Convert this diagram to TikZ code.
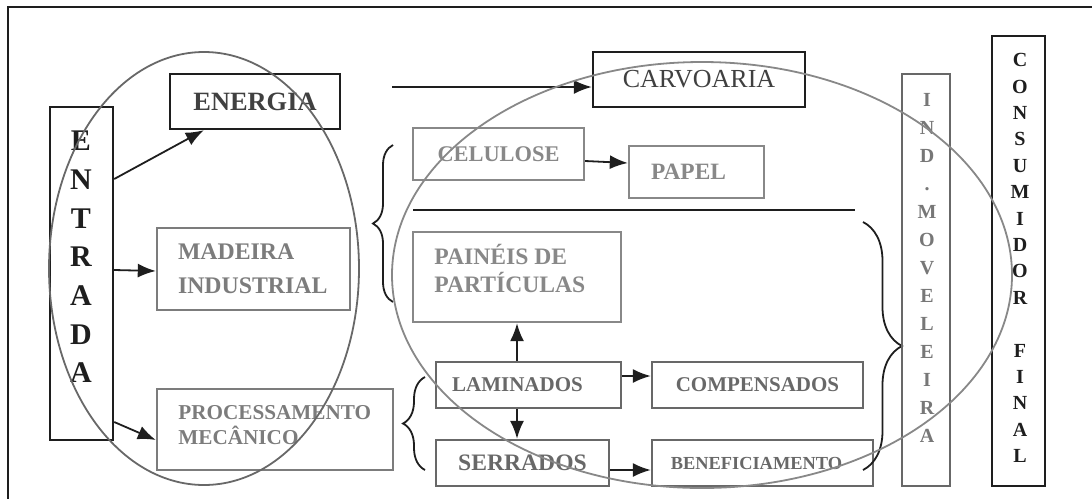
\documentclass[tikz,border=0pt]{standalone}
\usepackage{fontspec}
\setmainfont{Liberation Serif}
\usetikzlibrary{arrows.meta,decorations.pathreplacing}

\definecolor{ink}{HTML}{1E1E1E}
\definecolor{midgray}{HTML}{686868}
\definecolor{softgray}{HTML}{7C7C7C}
\definecolor{lightgray}{HTML}{888888}

\begin{document}
\begin{tikzpicture}[x=0.5pt, y=-0.5pt,
        box/.style={draw, line width=1.2pt, inner sep=0pt},
        flow/.style={-{Latex[length=9pt,width=7pt]}, line width=0.9pt, ink},
        curly/.style={decorate, decoration={brace, amplitude=#1}, line width=0.9pt, ink},
        zone/.style={line width=0.9pt}]
        \useasboundingbox (0,0) rectangle (1092,499);
        \draw[line width=1.2pt, ink] (1092,7) -- (8,7) -- (8,499);

        % entrada
        \node[box, ink, minimum width=31.5pt, minimum height=166.5pt] (entrada) at (81.5,273.5) {};
        \node[ink, align=center, font=\bfseries\fontsize{15}{19.35}\selectfont] (entradatxt) at (81,257) {E\\N\\T\\R\\A\\D\\A};

        \node[box, ink, minimum width=85pt, minimum height=27.5pt, font=\bfseries\fontsize{13.2}{15}\selectfont, text=ink!85] (energia) at (255,101.5) {ENERGIA};
        \node[box, softgray, minimum width=96.5pt, minimum height=41pt, text width=75.5pt, align=left, font=\bfseries\fontsize{11.9}{17}\selectfont] (madeira) at (253.5,269) {MADEIRA\\INDUSTRIAL};
        \node[box, softgray, minimum width=118pt, minimum height=40.5pt] (proc) at (275,429.5) {};
        \node[softgray, anchor=west, inner sep=0pt, align=left, font=\bfseries\fontsize{10.6}{12.5}\selectfont] (proctxt) at (178,425) {PROCESSAMENTO\\MEC\^ANICO};

        \draw[flow] ([yshift=47.25pt]entrada.east) -- ([xshift=17.5pt]energia.south west);
        \draw[flow] ([yshift=1.75pt]entrada.east) -- ([yshift=-1pt]madeira.west);
        \draw[flow] ([yshift=-74.25pt]entrada.east) -- ([yshift=-5.25pt]proc.west);

        % madeira para o resto
        \node[box, ink, minimum width=106pt, minimum height=27.5pt, text=ink!85, font=\fontsize{13}{15}\selectfont] (carvoaria) at (699,79.5) {CARVOARIA};
        \coordinate (carvin) at (392,87);
        \draw[flow] (carvin) -- ([yshift=-3.75pt]carvoaria.west);

        \node[box, lightgray, minimum width=85.5pt, minimum height=26pt, font=\bfseries\fontsize{11.2}{13}\selectfont] (celulose) at (498.5,154) {CELULOSE};
        \node[box, lightgray, minimum width=67.5pt, minimum height=26pt, font=\bfseries\fontsize{11.7}{13}\selectfont] (papel) at (696.5,172) {\hspace{-8pt}PAPEL};
        \draw[flow] ([yshift=-3.5pt]celulose.east) -- ([yshift=4.5pt]papel.west);
        \draw[line width=0.9pt, ink] (413,210) -- (855,210);

        \node[box, lightgray, minimum width=104pt, minimum height=45pt] (paineis) at (517,277) {};
        \node[lightgray, anchor=west, inner sep=0pt, align=left, font=\bfseries\fontsize{11.8}{14}\selectfont] (paineistxt) at (434,268) {PAIN\'EIS DE\\PART\'ICULAS};

        \node[box, midgray, minimum width=92.5pt, minimum height=23pt, font=\bfseries\fontsize{10.5}{12}\selectfont] (laminados) at (528.5,385) {\hspace{-11pt}LAMINADOS};
        \node[box, midgray, minimum width=86.5pt, minimum height=23pt, font=\bfseries\fontsize{11.8}{13}\selectfont] (serrados) at (522.5,463) {SERRADOS};
        \node[box, midgray, minimum width=105.5pt, minimum height=23pt, font=\bfseries\fontsize{10.5}{12}\selectfont] (compensados) at (757.5,385) {COMPENSADOS};
        \node[box, midgray, minimum width=110.5pt, minimum height=23pt, font=\bfseries\fontsize{9.2}{11}\selectfont] (benef) at (762.5,463) {\hspace{-6pt}BENEFICIAMENTO};

        \draw[flow] (paineis.south |- laminados.north) -- (paineis.south);
        \draw[flow] (paineis.south |- laminados.south) -- (paineis.south |- serrados.north);
        \draw[flow] ([yshift=4.5pt]laminados.east) -- ([yshift=4.5pt]compensados.west);
        \draw[flow] ([yshift=-3.5pt]serrados.east) -- ([yshift=-3.5pt]benef.west);

        % chaves
        \draw[curly=10pt] (393,302) -- (393,145);
        \draw[curly=11pt] (425,470) -- (425,377);
        \draw[curly=19.5pt] (863,222) -- (863,470);

        % saidas
        \node[box, midgray, minimum width=24pt, minimum height=206pt] (ind) at (926,280) {};
        \node[midgray!90, align=center, font=\bfseries\fontsize{10}{14}\selectfont] (indtxt) at (927,268) {I\\N\\D\\.\\M\\O\\V\\E\\L\\E\\I\\R\\A};
        \node[box, ink, minimum width=26.5pt, minimum height=225pt] (consumidor) at (1018.5,261) {};
        \node[ink, align=center, font=\bfseries\fontsize{10}{13.2}\selectfont] (consumidortxt) at (1020,258) {C\\O\\N\\S\\U\\M\\I\\D\\O\\R\\\mbox{}\\F\\I\\N\\A\\L};

        % agrupamentos
        \draw[zone, midgray] (204,268.5) ellipse [x radius=77.5pt, y radius=108.25pt];
        \draw[zone, lightgray] (702,275) ellipse [x radius=155pt, y radius=106.5pt];
\end{tikzpicture}
\end{document}
